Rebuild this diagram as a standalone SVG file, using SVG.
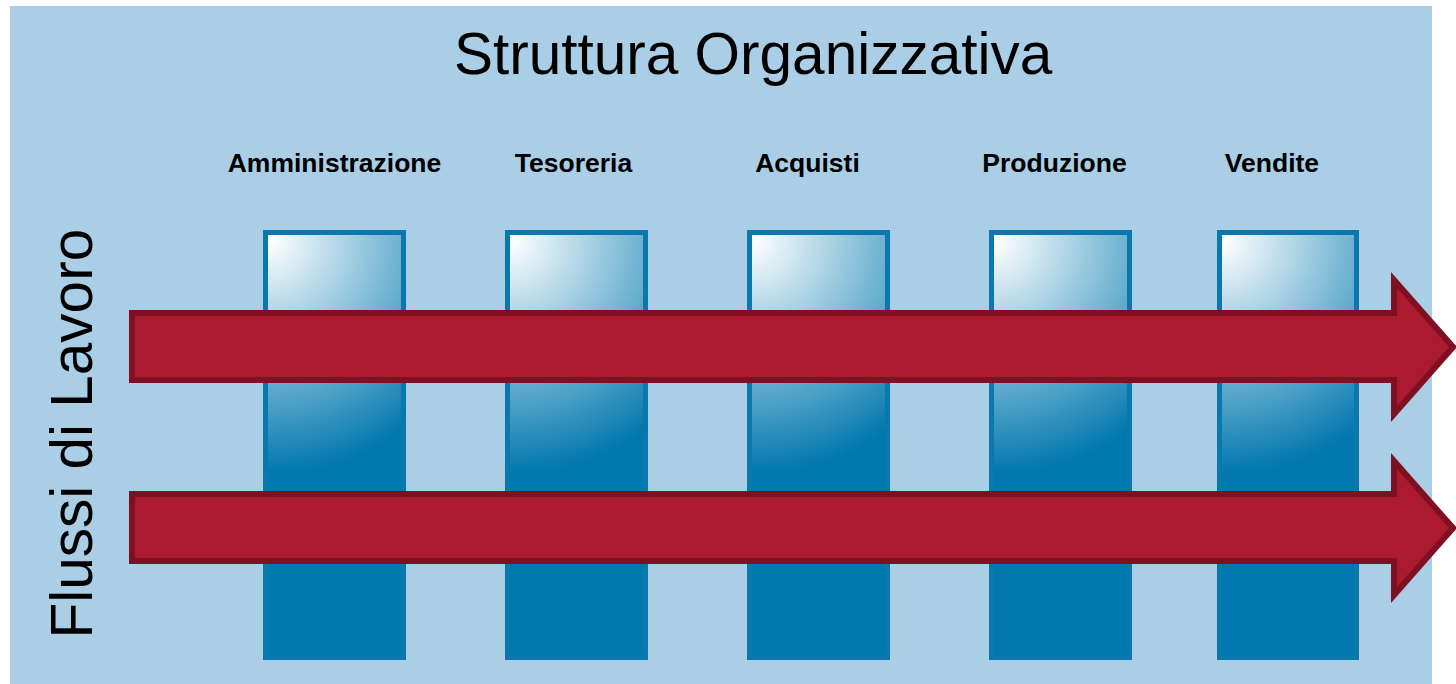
<svg xmlns="http://www.w3.org/2000/svg" width="1456" height="684" viewBox="0 0 1456 684">
<style>
.big{font-family:"Liberation Sans",Arial,sans-serif;font-size:58.500px;fill:#000}
.lab{font-family:"Liberation Sans",Arial,sans-serif;font-size:26.500px;font-weight:bold;fill:#000;text-anchor:middle}
.bar{stroke:#0a78ad;stroke-width:5}
.arrow{fill:#ab1a2f;stroke:#7f1022;stroke-width:6;stroke-miterlimit:20}
</style>
<defs>
<radialGradient id="g" cx="0.03" cy="0.02" r="1" gradientUnits="objectBoundingBox" gradientTransform="translate(0.03 0.02) scale(1.667 0.55) translate(-0.03 -0.02)">
<stop offset="0" stop-color="#fff"/>
<stop offset="1" stop-color="#0077ae"/>
</radialGradient>
<path id="arr" d="M132 313H1394V280L1453 347L1394 414V380H132Z"/>
</defs>
<rect id="panel" x="10" y="6" width="1422" height="678" fill="#a9cee5"/>
<text id="title" class="big" x="454" y="74">Struttura Organizzativa</text>
<text id="side" class="big" transform="translate(91.500 638.500) rotate(-90)">Flussi di Lavoro</text>
<g id="col1"><rect class="bar" x="265.500" y="232.500" width="138" height="425" fill="url(#g)"/><text class="lab" x="334.500" y="172">Amministrazione</text></g>
<g id="col2"><rect class="bar" x="507.500" y="232.500" width="138" height="425" fill="url(#g)"/><text class="lab" x="573.500" y="172">Tesoreria</text></g>
<g id="col3"><rect class="bar" x="749.500" y="232.500" width="138" height="425" fill="url(#g)"/><text class="lab" x="807.500" y="172">Acquisti</text></g>
<g id="col4"><rect class="bar" x="991.500" y="232.500" width="138" height="425" fill="url(#g)"/><text class="lab" x="1054.500" y="172">Produzione</text></g>
<g id="col5"><rect class="bar" x="1219.500" y="232.500" width="137" height="425" fill="url(#g)"/><text class="lab" x="1272" y="172">Vendite</text></g>
<g id="connectors">
<use class="arrow" href="#arr"/>
<use class="arrow" href="#arr" y="181"/>
</g>
</svg>
